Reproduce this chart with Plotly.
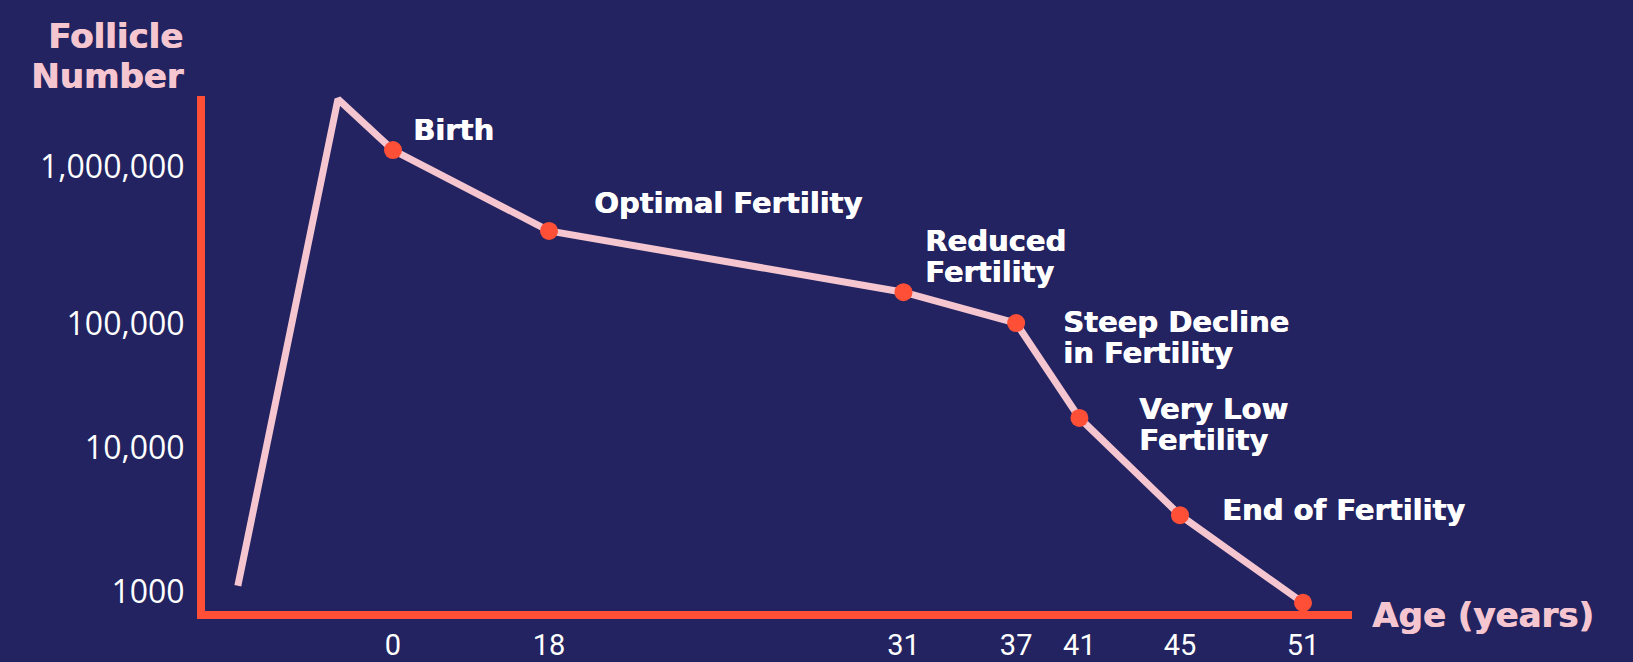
import plotly.graph_objects as go

# ---- data (both axes are stylized, not proportional) ----
age_ticks = ["0", "18", "31", "37", "41", "45", "51"]
age_tick_pos = [0, 18, 58.9, 71.9, 79.2, 90.8, 105.0]          # timeline position of each age tick

follicle_ticks = ["1000", "10,000", "100,000", "1,000,000"]
follicle_tick_pos = [3.7, 31.6, 55.7, 86.2]                     # level of each follicle-number tick

# curve: pre-birth rise, peak, then the six fertility stages and the end point
curve_pos = [-17.9, -6.35, 0, 18, 58.9, 71.9, 79.2, 90.8, 105.0]
curve_level = [4.9, 99.4, 89.5, 73.8, 61.9, 55.9, 37.5, 18.6, 1.6]

stage_names = ["Birth", "Optimal Fertility", "Reduced<br>Fertility",
               "Steep Decline<br>in Fertility", "Very Low<br>Fertility", "End of Fertility"]

# ---- styling ----
BG = "#222360"
RED = "#FF4F37"
PINK = "#F5C6D0"
WHITE = "#FFFFFF"
LABEL_FONT = "DejaVu Sans"
LINE_GAP = 31  # px between lines of a stage label

# label offsets (pixels) relative to each stage dot: x shift, y shift of first line
label_shift = [(18, 20), (43, 28), (20, 51), (45, 1.5), (58, 8.5), (40, 5)]

fig = go.Figure()
fig.add_trace(go.Scatter(
    x=curve_pos, y=curve_level, mode="lines",
    line=dict(color=PINK, width=7), hoverinfo="skip", showlegend=False))
fig.add_trace(go.Scatter(
    x=curve_pos[2:], y=curve_level[2:], mode="markers",
    marker=dict(color=RED, size=18, line=dict(width=0)), hoverinfo="skip", showlegend=False))

label_font = dict(family=LABEL_FONT, size=29, color=WHITE, weight="bold",
                  shadow="0.7px 0 0 #FFFFFF")
for name, px, py, (dx, dy) in zip(stage_names, curve_pos[2:], curve_level[2:], label_shift):
    for i, line in enumerate(name.split("<br>")):
        fig.add_annotation(x=px, y=py, text=line, showarrow=False, xanchor="left", yanchor="middle",
                           xshift=dx, yshift=dy - i * LINE_GAP, align="left", font=label_font)

title_font = dict(family=LABEL_FONT, size=34, color=PINK, weight="bold", shadow="0.8px 0 0 " + PINK)
for i, line in enumerate(["Follicle", "Number"]):
    fig.add_annotation(xref="paper", yref="paper", x=0, y=1, text=line,
                       showarrow=False, xanchor="right", yanchor="middle", align="right",
                       xshift=-20, yshift=60 - i * 40, font=title_font)
fig.add_annotation(xref="paper", yref="paper", x=1, y=0, text="Age (years)",
                   showarrow=False, xanchor="left", yanchor="middle",
                   xshift=18, yshift=-4, font=title_font)

fig.update_layout(
    width=1633, height=662,
    paper_bgcolor=BG, plot_bgcolor=BG,
    margin=dict(l=205, r=281, t=96, b=51),
    xaxis=dict(range=[-21.69, 110.65], showgrid=False, zeroline=False, automargin=False,
               showline=True, linecolor=RED, linewidth=8,
               tickmode="array", tickvals=age_tick_pos, ticktext=age_ticks,
               ticks="", ticklabelstandoff=1,
               tickfont=dict(family="Roboto", size=29, color=WHITE)),
    yaxis=dict(range=[0, 100], showgrid=False, zeroline=False, automargin=False,
               showline=True, linecolor=RED, linewidth=8,
               tickmode="array", tickvals=follicle_tick_pos, ticktext=follicle_ticks,
               ticks="", ticklabelstandoff=6,
               tickfont=dict(family="Open Sans", size=32, color=WHITE)),
)

fig.write_html("out.html", config={"displayModeBar": False},
               post_script="document.body.style.margin='0';document.body.style.overflow='hidden';")
